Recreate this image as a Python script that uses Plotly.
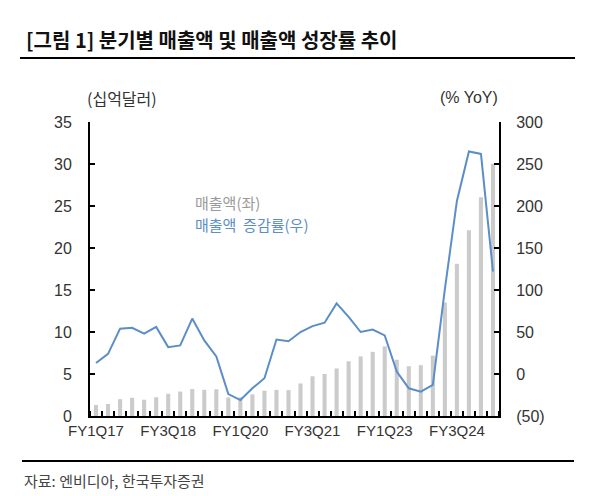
import plotly.graph_objects as go

quarters = ["FY1Q17","FY2Q17","FY3Q17","FY4Q17",
            "FY1Q18","FY2Q18","FY3Q18","FY4Q18",
            "FY1Q19","FY2Q19","FY3Q19","FY4Q19",
            "FY1Q20","FY2Q20","FY3Q20","FY4Q20",
            "FY1Q21","FY2Q21","FY3Q21","FY4Q21",
            "FY1Q22","FY2Q22","FY3Q22","FY4Q22",
            "FY1Q23","FY2Q23","FY3Q23","FY4Q23",
            "FY1Q24","FY2Q24","FY3Q24","FY4Q24",
            "FY1Q25","FY2Q25"]
revenue = [1.31, 1.43, 2.00, 2.17,
           1.94, 2.23, 2.64, 2.91,
           3.21, 3.12, 3.18, 2.21,
           2.22, 2.58, 3.01, 3.11,
           3.08, 3.87, 4.73, 5.00,
           5.66, 6.51, 7.10, 7.64,
           8.29, 6.70, 5.93, 6.05,
           7.19, 13.51, 18.12, 22.10,
           26.04, 30.04]
growth = [13, 24, 54, 55,
          48, 56, 32, 34,
          66, 40, 21, -24,
          -31, -17, -5, 41,
          39, 50, 57, 61,
          84, 68, 50, 53,
          46, 3, -17, -21,
          -13, 101, 206, 265,
          262, 122]
label_quarters = ["FY1Q17", "FY3Q18", "FY1Q20", "FY3Q21", "FY1Q23", "FY3Q24"]
left_ticks = [0, 5, 10, 15, 20, 25, 30, 35]
right_ticks = [-50, 0, 50, 100, 150, 200, 250, 300]
right_ticktext = ["(50)", "0", "50", "100", "150", "200", "250", "300"]

x = list(range(len(quarters)))
label_pos = [quarters.index(q) for q in label_quarters]

FONT = "Liberation Sans, Arial, Noto Sans CJK KR, sans-serif"
KFONT = "Noto Sans CJK KR, Liberation Sans, sans-serif"

# plot area in page pixels: x 90..499, y 122..416
def px(page_x):
    return (page_x - 90) / 409

def py(page_y):
    return (416 - page_y) / 294

fig = go.Figure()
fig.add_trace(go.Bar(x=x, y=revenue, marker=dict(color="#cbcbcb", line=dict(width=0)),
                     width=0.34, name="매출액(좌)", yaxis="y"))
fig.add_trace(go.Scatter(x=x, y=growth, mode="lines", line=dict(color="#5b8ec8", width=2),
                         name="매출액 증감률(우)", yaxis="y2"))

fig.update_layout(
    width=592, height=488,
    paper_bgcolor="white", plot_bgcolor="white",
    margin=dict(l=82, r=101, t=114, b=80),
    showlegend=False,
    font=dict(family=FONT, size=15, color="#333333"),
    xaxis=dict(range=[-0.5, len(quarters) - 0.5], tickvals=label_pos, ticktext=label_quarters,
               ticks="", showgrid=False, zeroline=False, showline=True, linecolor="black",
               linewidth=2, tickfont=dict(size=15, color="#333333"),
               minor=dict(tick0=0.5, dtick=1, ticks="inside", ticklen=5, tickcolor="black",
                          tickwidth=1.5, showgrid=False)),
    yaxis=dict(range=[0, 35], tickvals=left_ticks, ticks="inside", ticklen=5, tickwidth=1.5,
               tickcolor="black", showgrid=False, zeroline=False, showline=True,
               linecolor="black", linewidth=2, tickfont=dict(size=16, color="#333333"),
               ticklabelstandoff=13),
    yaxis2=dict(range=[-50, 300], tickvals=right_ticks, ticktext=right_ticktext, overlaying="y",
                side="right", ticks="inside", ticklen=5, tickwidth=1.5, tickcolor="black",
                showgrid=False, zeroline=False, showline=True, linecolor="black", linewidth=2,
                tickfont=dict(size=16, color="#333333"), ticklabelstandoff=12),
)

fig.add_annotation(text="<b>[그림 1] 분기별 매출액 및 매출액 성장률 추이</b>", xref="paper", yref="paper",
                   x=px(24), y=py(40), xanchor="left", yanchor="middle", showarrow=False,
                   font=dict(family=KFONT, size=20, color="#111111"))
fig.add_shape(type="line", xref="paper", yref="paper", x0=px(20), x1=px(575),
              y0=py(58), y1=py(58), line=dict(color="black", width=1.8))
fig.add_shape(type="line", xref="paper", yref="paper", x0=px(22), x1=px(574),
              y0=py(461), y1=py(461), line=dict(color="black", width=1.8))
fig.add_annotation(text="자료: 엔비디아, 한국투자증권", xref="paper", yref="paper",
                   x=px(22), y=py(480), xanchor="left", yanchor="middle", showarrow=False,
                   font=dict(family=KFONT, size=15, color="#444444"))
fig.add_annotation(text="(십억달러)", xref="paper", yref="paper",
                   x=px(122), y=py(98), xanchor="center", yanchor="middle",
                   showarrow=False, font=dict(family=KFONT, size=16, color="#333333"))
fig.add_annotation(text="(% YoY)", xref="paper", yref="paper",
                   x=px(469), y=py(98), xanchor="center", yanchor="middle",
                   showarrow=False, font=dict(family=FONT, size=16, color="#333333"))
fig.add_annotation(text="매출액(좌)", xref="paper", yref="paper",
                   x=px(193), y=py(202), xanchor="left", yanchor="middle",
                   showarrow=False, font=dict(family=KFONT, size=15, color="#9a9a9a"))
fig.add_annotation(text="매출액  증감률(우)", xref="paper", yref="paper",
                   x=px(193), y=py(224), xanchor="left", yanchor="middle",
                   showarrow=False, font=dict(family=KFONT, size=15, color="#5b8ec8"))

fig.write_html("out.html")
